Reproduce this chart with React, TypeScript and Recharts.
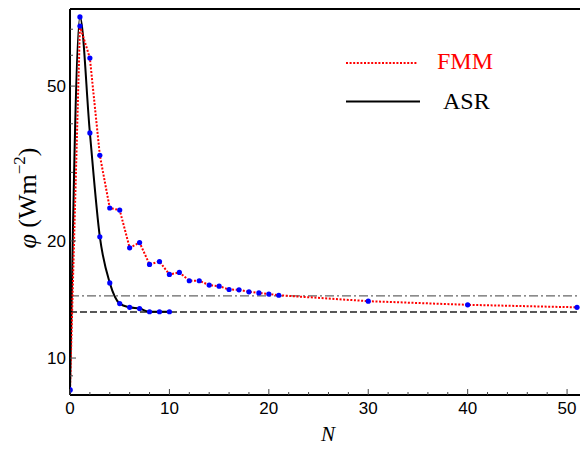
import { LineChart, Line, XAxis, YAxis, ReferenceLine, Legend, Label } from 'recharts';

// ASR and FMM convergence vs number of terms N
const asrN = [0, 1, 2, 3, 4, 5, 6, 7, 8, 9, 10];
const asrPhi = [8.28, 75.3, 37.9, 20.5, 15.6, 13.8, 13.5, 13.4, 13.15, 13.15, 13.15];

const fmmN = [0, 1, 2, 3, 4, 5, 6, 7, 8, 9, 10, 11, 12, 13, 14, 15, 16, 17, 18, 19, 20, 21, 30, 40, 51];
const fmmPhi = [
  8.28, 71.3, 59.0, 33.2, 24.3, 24.0, 19.2, 19.8, 17.4, 17.7, 16.4, 16.6, 15.8,
  15.8, 15.4, 15.3, 15.0, 14.97, 14.8, 14.7, 14.6, 14.5, 14.0, 13.7, 13.5,
];

const fmmLimit = 14.45;
const asrLimit = 13.13;

const xTicks = [0, 2, 4, 6, 8, 10, 12, 14, 16, 18, 20, 22, 24, 26, 28, 30, 32, 34, 36, 38, 40, 42, 44, 46, 48, 50];
const xLabeled = [0, 10, 20, 30, 40, 50];
const yTicks = [9, 10, 20, 30, 40, 50, 60, 70];
const yLabeled = [10, 20, 50];

const asrData = asrN.map((n, i) => ({ n, phi: asrPhi[i] }));
const fmmData = fmmN.map((n, i) => ({ n, phi: fmmPhi[i] }));

const SANS = '"Liberation Sans", Arial, sans-serif';
const SERIF = '"Liberation Serif", "Times New Roman", serif';

function BottomTick({ x, y, payload }: any) {
  const major = xLabeled.includes(payload.value);
  return (
    <g>
      <line x1={x} x2={x} y1={y} y2={y - (major ? 6 : 3)} stroke="#444" strokeWidth={1} />
      {major && (
        <text x={x} y={y + 19} textAnchor="middle" fontSize={17} fontFamily={SANS} fill="#000">
          {payload.value}
        </text>
      )}
    </g>
  );
}

function TopTick({ x, y, payload }: any) {
  const major = xLabeled.includes(payload.value);
  return <line x1={x} x2={x} y1={y} y2={y + (major ? 6 : 3)} stroke="#444" strokeWidth={1} />;
}

function LeftTick({ x, y, payload }: any) {
  const major = yLabeled.includes(payload.value);
  return (
    <g>
      <line x1={x} x2={x + (major ? 6 : 3)} y1={y} y2={y} stroke="#444" strokeWidth={1} />
      {major && (
        <text x={x - 4} y={y + 6} textAnchor="end" fontSize={17} fontFamily={SANS} fill="#000">
          {payload.value}
        </text>
      )}
    </g>
  );
}

function YTitle({ viewBox }: any) {
  const cx = viewBox.x + 36;
  const cy = viewBox.y + viewBox.height / 2 - 4;
  return (
    <text
      x={cx}
      y={cy}
      transform={`rotate(-90, ${cx}, ${cy})`}
      textAnchor="middle"
      fontFamily={SERIF}
      fontSize={26}
      fill="#000"
    >
      <tspan fontStyle="italic">φ</tspan>
      <tspan> (Wm</tspan>
      <tspan fontSize={17} dy={-11}>−2</tspan>
      <tspan dy={11}>)</tspan>
    </text>
  );
}

function XTitle({ viewBox }: any) {
  return (
    <text
      x={viewBox.x + viewBox.width / 2 + 3}
      y={viewBox.y + 46}
      textAnchor="middle"
      fontFamily={SERIF}
      fontStyle="italic"
      fontSize={21}
      fill="#000"
    >
      N
    </text>
  );
}

function LegendBox() {
  return (
    <svg width={200} height={80}>
      <line x1={6} x2={77} y1={23} y2={23} stroke="#ff0000" strokeWidth={2} strokeDasharray="2 1.6" />
      <text x={97} y={29} fontFamily={SERIF} fontSize={24} fill="#ff0000">FMM</text>
      <line x1={6} x2={80} y1={61.5} y2={61.5} stroke="#000" strokeWidth={2} />
      <text x={103} y={69} fontFamily={SERIF} fontSize={24} fill="#000">ASR</text>
    </svg>
  );
}

export default function App() {
  return (
    <div>
      <style>{'body{margin:0;}'}</style>
      <LineChart width={580} height={450} margin={{ top: 0, right: 0, bottom: 0, left: 0 }}>
        <XAxis
          dataKey="n"
          type="number"
          domain={[0, 51.3]}
          allowDataOverflow
          ticks={xTicks}
          interval={0}
          height={55}
          tickSize={0}
          tickMargin={0}
          tick={<BottomTick />}
          axisLine={{ stroke: '#000', strokeWidth: 2 }}
          tickLine={false}
        >
          <Label content={<XTitle />} />
        </XAxis>
        <XAxis
          xAxisId="top"
          orientation="top"
          type="number"
          domain={[0, 51.3]}
          allowDataOverflow
          ticks={xTicks}
          interval={0}
          height={9}
          tickSize={0}
          tickMargin={0}
          tick={<TopTick />}
          axisLine={{ stroke: '#000', strokeWidth: 2 }}
          tickLine={false}
        />
        <YAxis
          dataKey="phi"
          type="number"
          scale="log"
          domain={[8.035, 78.9]}
          allowDataOverflow
          ticks={yTicks}
          interval={0}
          width={70}
          tickSize={0}
          tickMargin={0}
          tick={<LeftTick />}
          axisLine={{ stroke: '#000', strokeWidth: 2 }}
          tickLine={false}
        >
          <Label content={<YTitle />} />
        </YAxis>
        <ReferenceLine y={fmmLimit} stroke="#666" strokeWidth={1.2} strokeDasharray="9 3 2 3" />
        <ReferenceLine y={asrLimit} stroke="#222" strokeWidth={1.4} strokeDasharray="7 3" />
        <Line
          data={asrData}
          dataKey="phi"
          type="monotone"
          stroke="#000"
          strokeWidth={2}
          dot={{ r: 2.6, fill: '#0000ff', stroke: 'none' }}
          isAnimationActive={false}
        />
        <Line
          data={fmmData}
          dataKey="phi"
          type="linear"
          stroke="#ff0000"
          strokeWidth={2}
          strokeDasharray="2 1.6"
          dot={{ r: 2.6, fill: '#0000ff', stroke: 'none', strokeDasharray: '' }}
          isAnimationActive={false}
        />
        <Legend
          layout="vertical"
          align="center"
          verticalAlign="middle"
          content={<LegendBox />}
          wrapperStyle={{ left: 340, top: 40, width: 200, height: 80 }}
        />
      </LineChart>
    </div>
  );
}
